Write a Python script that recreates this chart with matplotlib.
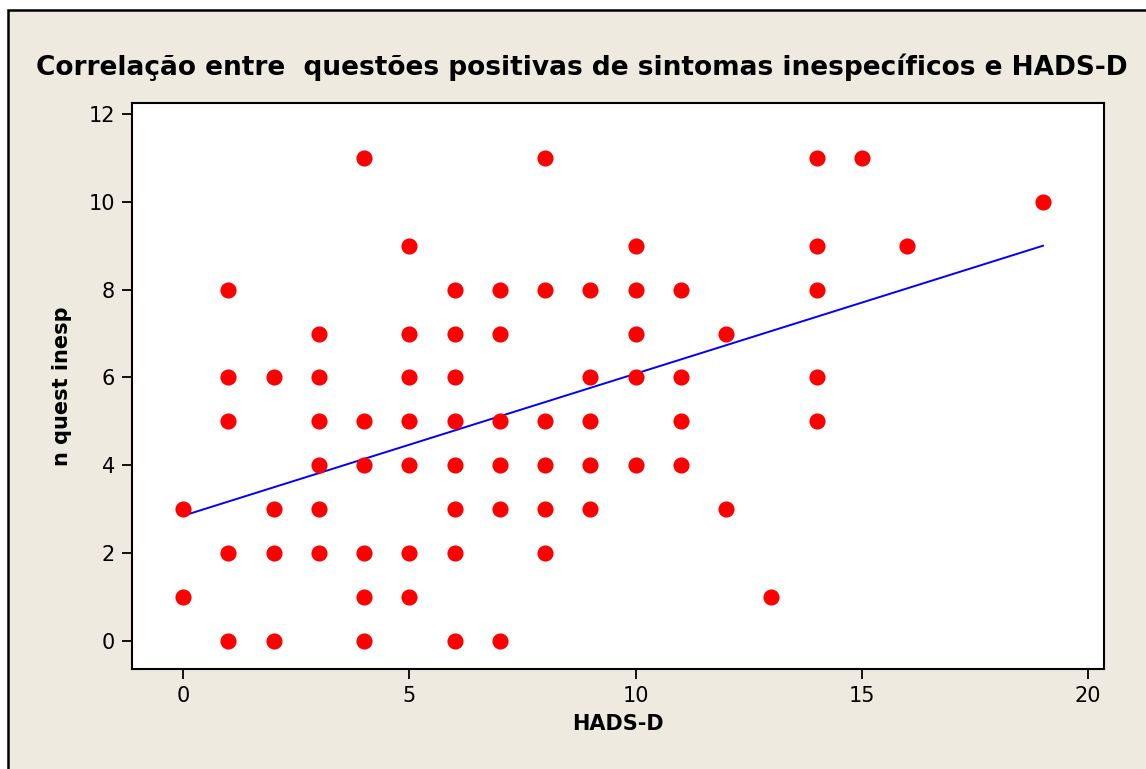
import numpy as np
import matplotlib
matplotlib.use("Agg")
import matplotlib.pyplot as plt
from matplotlib.patches import Rectangle

# HADS-D score and number of positive nonspecific-symptom questions
hads_d = [0, 0,
          1, 1, 1, 1, 1,
          2, 2, 2, 2,
          3, 3, 3, 3, 3, 3,
          4, 4, 4, 4, 4, 4,
          5, 5, 5, 5, 5, 5, 5,
          6, 6, 6, 6, 6, 6, 6, 6,
          7, 7, 7, 7, 7, 7,
          8, 8, 8, 8, 8, 8,
          9, 9, 9, 9, 9,
          10, 10, 10, 10, 10,
          11, 11, 11, 11,
          12, 12,
          13,
          14, 14, 14, 14, 14,
          15, 16, 19]
n_quest = [3, 1,
           8, 6, 5, 2, 0,
           6, 3, 2, 0,
           7, 6, 5, 4, 3, 2,
           11, 5, 4, 2, 1, 0,
           9, 7, 6, 5, 4, 2, 1,
           8, 7, 6, 5, 4, 3, 2, 0,
           8, 7, 5, 4, 3, 0,
           11, 8, 5, 4, 3, 2,
           8, 6, 5, 4, 3,
           9, 8, 7, 6, 4,
           8, 6, 5, 4,
           7, 3,
           1,
           11, 9, 8, 6, 5,
           11, 9, 10]

# regression line as drawn in the original
fit_intercept = 2.85
fit_slope = 0.3237

bg = "#eeeae0"
fig = plt.figure(figsize=(11.46, 7.69), dpi=100, facecolor="white")
fig.patches.append(Rectangle((8 / 1146, -0.01), 1.02, 1 - 10 / 769 + 0.01,
                             transform=fig.transFigure, facecolor=bg,
                             edgecolor="black", linewidth=1.8, zorder=-10))

ax = fig.add_axes([0.1149, 0.130, 0.9634 - 0.1149, 0.736])
ax.set_facecolor("white")

ax.scatter(hads_d, n_quest, s=135, color="#ff0000", linewidths=0, zorder=3)

xs = np.array([min(hads_d), max(hads_d)])
ax.plot(xs, fit_intercept + fit_slope * xs, color="#0000ff", linewidth=1.4, zorder=2)

ax.set_xlim(-1.134, 20.35)
ax.set_ylim(-0.64, 12.25)
ax.set_xticks([0, 5, 10, 15, 20])
ax.set_yticks([0, 2, 4, 6, 8, 10, 12])
ax.tick_params(direction="out", length=7, width=1.3, labelsize=15, pad=5)
for s in ax.spines.values():
    s.set_linewidth(1.5)

ax.set_xlabel("HADS-D", fontsize=15, fontweight="bold", labelpad=6)
ax.set_ylabel("n quest inesp", fontsize=15, fontweight="bold", labelpad=12)
fig.text(0.508, 0.912, "Correlação entre  questões positivas de sintomas inespecíficos e HADS-D",
         ha="center", va="center", fontsize=19, fontweight="bold")

fig.savefig("out.png", dpi=100, facecolor=fig.get_facecolor())
